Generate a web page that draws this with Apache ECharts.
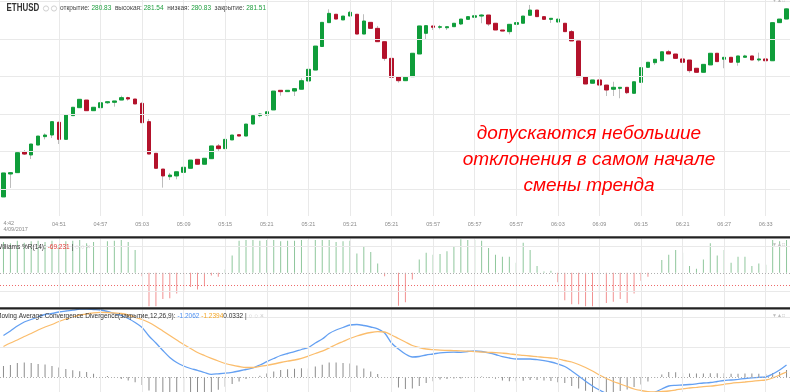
<!DOCTYPE html>
<html><head><meta charset="utf-8">
<script src="https://cdn.jsdelivr.net/npm/echarts@6/dist/echarts.min.js"></script>
<style>html,body{margin:0;padding:0;background:#fff;overflow:hidden}#c{width:790px;height:392px}</style>
</head><body><div id="c"></div>
<script>
// ---- data ----
const tickIndex = [0,8,14,20,26,32,38,44,50,56,62,68,74,80,86,92,98,104,110];
const tickLabels = ['4:42','04:51','04:57','05:03','05:09','05:15','05:21','05:21','05:21','05:21','05:57','05:57','05:57','06:03','06:09','06:15','06:21','06:27','06:33'];
const dateLabel = '4/09/2017';

const opens = [268.97,270.50,270.59,271.97,271.77,272.43,272.99,273.10,273.95,272.81,
274.39,274.92,275.43,274.72,274.92,275.25,275.28,275.43,275.59,275.50,
275.21,273.99,271.88,270.83,270.32,270.37,270.61,270.88,271.48,271.15,
271.52,272.37,272.19,272.77,273.12,273.03,273.83,274.39,274.43,274.77,
276.08,275.99,276.03,276.15,276.70,277.43,279.00,280.59,281.15,280.77,
281.03,281.15,279.83,280.61,280.21,279.32,278.21,276.99,276.72,276.99,
278.50,279.88,280.37,280.28,280.25,280.32,280.50,280.81,280.95,281.03,
281.10,280.55,280.10,279.99,280.48,280.55,281.08,281.43,280.99,280.81,
280.63,280.55,279.99,279.37,276.99,276.55,276.77,276.43,276.15,276.21,
276.28,275.88,276.61,277.61,277.92,278.05,278.65,278.50,278.17,278.10,
277.55,277.28,277.77,278.55,278.15,278.28,277.95,278.28,278.37,278.10,
278.17,278.05,280.59,280.83];
const highs = [270.57,270.62,271.92,272.10,272.50,273.03,273.21,273.99,273.99,274.43,
274.95,275.48,275.43,274.95,275.25,275.32,275.37,275.72,275.65,275.50,
275.28,274.17,271.88,270.83,270.57,270.65,270.95,271.43,271.48,271.55,
272.37,272.50,272.81,273.10,273.12,273.83,274.39,274.55,274.65,276.03,
276.08,276.08,276.19,276.88,277.48,279.03,280.61,281.48,281.15,281.03,
281.37,281.15,281.15,280.61,280.37,279.32,278.21,276.99,276.95,278.55,
280.37,280.39,280.37,280.43,280.32,280.55,280.83,280.99,281.05,281.15,
281.10,280.55,280.10,280.48,280.59,281.03,281.77,281.43,280.99,280.88,
280.83,280.55,280.10,279.37,276.99,276.77,276.77,276.43,276.65,276.28,
276.28,276.65,277.59,277.95,278.15,278.65,278.77,278.50,278.23,278.10,
277.55,277.81,278.55,278.55,278.28,278.28,278.37,278.45,278.37,278.59,
278.17,280.59,280.83,281.54];
const lows = [268.97,269.57,270.59,271.77,271.50,272.43,272.81,272.90,272.50,272.81,
274.39,274.92,274.72,274.72,274.92,275.17,274.99,275.43,275.39,275.17,
273.92,271.83,270.88,269.59,270.10,270.15,270.28,270.88,271.15,271.15,
271.52,271.99,272.19,272.77,273.03,273.03,273.83,274.28,274.43,274.77,
275.72,275.99,275.70,276.15,276.70,277.43,279.00,280.59,280.83,280.77,
281.03,279.83,279.83,280.21,279.32,278.05,276.95,276.59,276.72,276.99,
278.50,279.48,280.10,280.15,280.10,280.32,280.43,280.81,280.50,280.55,
280.37,280.10,280.03,279.81,280.48,280.55,281.08,280.99,280.81,280.57,
280.63,279.99,279.37,276.99,276.50,276.55,276.43,275.70,275.70,275.55,
275.83,275.88,276.61,277.61,277.77,278.05,278.50,278.21,277.95,277.25,
277.28,277.28,277.77,277.99,277.55,277.95,277.72,278.28,278.10,277.99,
278.05,278.05,280.59,280.83];
const closes = [270.57,270.59,271.92,271.83,272.50,273.03,273.10,273.99,272.81,274.43,
274.95,275.48,274.72,274.95,275.25,275.32,275.37,275.59,275.50,275.17,
273.92,271.83,270.88,270.37,270.43,270.65,270.95,271.43,271.15,271.55,
272.37,272.19,272.81,273.10,273.03,273.83,274.39,274.50,274.65,276.03,
275.99,276.08,276.19,276.72,277.48,279.03,280.61,281.21,280.83,281.03,
281.28,279.83,280.70,280.21,279.32,278.21,276.95,276.72,276.95,278.55,
280.37,280.39,280.28,280.32,280.32,280.55,280.83,280.99,281.05,281.10,
280.50,280.10,280.03,280.48,280.59,281.03,281.43,280.99,280.81,280.88,
280.83,279.99,279.37,276.99,276.50,276.77,276.43,276.10,276.28,276.28,
275.92,276.65,277.59,277.95,278.15,278.65,278.50,278.21,277.95,277.39,
277.28,277.81,278.55,277.99,278.28,277.95,278.37,278.37,278.10,278.17,
278.05,280.59,280.83,281.51];
const priceGrid = [282.0,279.5,277.0,274.5,272.0,269.5];

const williamsR = [-4,-6,-2,-5,-3,-2,-4,-2,-8,-3,
-2,-1,-6,-4,-3,-3,-2,-1,-4,-16,
-55,-100,-100,-89,-88,-81,-79,-71,-75,-70,
-54,-56,-45,-24,-2,-1,-1,-2,-1,-1,
-3,-2,-2,-1,-1,-1,-1,-1,-4,-3,
-2,-21,-10,-19,-36,-55,-86,-99,-94,-60,
-30,-20,-23,-22,-18,-11,0,-1,-1,-2,
-13,-23,-26,-26,-35,-5,-16,-40,-48,-47,
-64,-91,-97,-97,-100,-100,-100,-95,-93,-89,
-95,-81,-62,-56,-50,-31,-23,-16,-20,-40,
-44,-30,-6,-24,-16,-35,-26,-26,-40,-36,
-38,-1,-3,-1];
const williamsBase = -50;
const williamsCurrent = -69.231;
const williamsGrid = [-10,-78];

const macdLine = [4.15,4.6,5.1,5.5,5.75,6.0,6.25,6.35,6.5,6.6,
6.68,6.78,6.8,6.75,6.7,6.55,6.35,6.15,5.85,5.45,
4.95,4.1,3.4,2.65,1.95,1.45,1.1,0.85,0.67,0.45,
0.27,0.32,0.38,0.47,0.6,0.75,0.9,1.2,1.53,1.85,
2.15,2.35,2.53,2.75,2.95,3.4,3.8,4.35,4.7,4.95,
5.2,5.25,5.15,5.0,4.82,4.4,3.4,2.8,2.3,2.0,
2.05,2.2,2.3,2.42,2.47,2.48,2.47,2.55,2.6,2.55,
2.42,2.25,2.03,1.9,1.8,1.8,1.8,1.73,1.63,1.5,
1.3,1.05,0.6,0.1,-0.43,-0.9,-1.3,-1.65,-1.95,-2.1,
-2.2,-2.2,-2.1,-1.9,-1.53,-1.2,-0.9,-0.83,-0.8,-0.75,
-0.68,-0.6,-0.55,-0.45,-0.35,-0.3,-0.23,-0.15,-0.08,-0.03,
0.0,0.3,0.7,1.2];
const signalLine = [3.05,3.4,3.7,4.05,4.35,4.7,5.0,5.25,5.55,5.8,
6.0,6.2,6.3,6.42,6.47,6.45,6.4,6.35,6.2,5.97,
5.75,5.45,5.05,4.6,4.15,3.7,3.25,2.85,2.45,2.15,
1.87,1.6,1.35,1.18,1.05,0.95,0.95,1.07,1.17,1.3,
1.45,1.58,1.7,1.87,2.1,2.35,2.58,2.9,3.25,3.55,
3.85,4.1,4.3,4.45,4.53,4.5,4.2,3.85,3.5,3.15,
2.95,2.8,2.73,2.68,2.66,2.64,2.62,2.58,2.54,2.5,
2.47,2.43,2.38,2.32,2.23,2.17,2.1,2.03,1.97,1.9,
1.82,1.65,1.5,1.25,0.95,0.6,0.2,-0.15,-0.45,-0.7,
-0.95,-1.2,-1.35,-1.46,-1.48,-1.45,-1.4,-1.3,-1.18,-1.1,
-1.03,-0.96,-0.92,-0.83,-0.73,-0.63,-0.56,-0.5,-0.43,-0.36,
-0.3,-0.1,0.2,0.5];
const macdHist = [1.1,1.2,1.4,1.45,1.4,1.3,1.25,1.1,0.95,0.8,
0.68,0.58,0.5,0.33,0.23,0.1,-0.05,-0.2,-0.35,-0.52,
-0.8,-1.35,-1.65,-1.95,-2.2,-2.25,-2.15,-2.0,-1.78,-1.7,
-1.6,-1.28,-0.97,-0.71,-0.45,-0.2,-0.05,0.13,0.36,0.55,
0.7,0.77,0.83,0.88,0.85,1.05,1.22,1.45,1.45,1.4,
1.35,1.15,0.85,0.55,0.29,-0.1,-0.8,-1.05,-1.2,-1.15,
-0.9,-0.6,-0.43,-0.26,-0.19,-0.16,-0.15,-0.03,0.06,0.05,
-0.05,-0.18,-0.35,-0.42,-0.43,-0.37,-0.3,-0.3,-0.34,-0.4,
-0.52,-0.6,-0.9,-1.15,-1.38,-1.5,-1.5,-1.5,-1.5,-1.4,
-1.25,-1.0,-0.75,-0.44,-0.05,0.25,0.5,0.47,0.38,0.35,
0.35,0.36,0.37,0.38,0.38,0.33,0.33,0.35,0.35,0.33,
0.3,0.4,0.5,0.7];
const macdGrid = [6,3];

// ---- build ----
const N = opens.length;
const cats = opens.map((_, i) => String(i));
const nulls = cats.map(() => null);
const UP = '#0f9d3a', DOWN = '#b3122b', WICK = '#bdbdbd';
const FONT = '"Liberation Sans", Arial, sans-serif';
const vLines = tickIndex.slice(1).map(i => ({xAxis: i}));
const gridLine = {color: '#e9e9e9', width: 1, type: 'solid'};
function mk(data) {
  return {silent: true, symbol: ['none','none'], label: {show: false}, animation: false, data: data};
}
const wOff = v => v - williamsBase;

const bodies = opens.map((o, i) => [o, closes[i], Math.min(o, closes[i]), Math.max(o, closes[i])]);
const wicks = opens.map((o, i) => [o, closes[i], lows[i], highs[i]]);

const chart = echarts.init(document.getElementById('c'), null, {renderer: 'canvas'});
chart.setOption({
  animation: false,
  backgroundColor: '#fff',
  grid: [
    {left: 0, right: 0, top: 0, height: 216},
    {left: 0, right: 0, top: 238.5, height: 68.5},
    {left: 0, right: 0, top: 309.5, height: 82.5}
  ],
  xAxis: [
    {type: 'category', gridIndex: 0, data: cats, boundaryGap: true,
     axisLine: {show: false}, axisTick: {show: false}, splitLine: {show: false},
     axisLabel: {interval: (i) => tickIndex.indexOf(i) > 0, formatter: (v, i) => tickLabels[tickIndex.indexOf(i)],
       fontSize: 5.5, color: '#8a8a8a', margin: 5, fontFamily: FONT}},
    {type: 'category', gridIndex: 0, data: cats, boundaryGap: true, position: 'bottom',
     axisLine: {show: false}, axisTick: {show: false}, splitLine: {show: false},
     axisLabel: {interval: (i) => i === 0, formatter: () => tickLabels[0] + '\n' + dateLabel,
       align: 'left', fontSize: 5.5, lineHeight: 5.5, color: '#8a8a8a', margin: 5, fontFamily: FONT}},
    {type: 'category', gridIndex: 1, data: cats, boundaryGap: true, show: false},
    {type: 'category', gridIndex: 2, data: cats, boundaryGap: true, show: false}
  ],
  yAxis: [
    {type: 'value', gridIndex: 0, min: 267.7, max: 282.1, show: false},
    {type: 'value', gridIndex: 1, min: -51, max: 51.2, show: false},
    {type: 'value', gridIndex: 2, min: -1.5, max: 6.75, show: false}
  ],
  series: [
    {type: 'line', xAxisIndex: 0, yAxisIndex: 0, data: nulls, z: 1, symbol: 'none',
     markLine: Object.assign(mk(priceGrid.map(v => ({yAxis: v})).concat(vLines)), {lineStyle: gridLine})},
    {type: 'candlestick', xAxisIndex: 0, yAxisIndex: 0, data: wicks, z: 2, barWidth: 1,
     itemStyle: {color: WICK, color0: WICK, borderColor: WICK, borderColor0: WICK, borderWidth: 1}},
    {type: 'candlestick', xAxisIndex: 0, yAxisIndex: 0, data: bodies, z: 3, barWidth: 4,
     itemStyle: {color: UP, color0: DOWN, borderColor: UP, borderColor0: DOWN, borderWidth: 1}},

    {type: 'line', xAxisIndex: 2, yAxisIndex: 1, data: nulls, z: 1, symbol: 'none',
     markLine: Object.assign(mk(williamsGrid.map(v => ({yAxis: wOff(v)})).concat(vLines)), {lineStyle: gridLine})},
    {type: 'bar', xAxisIndex: 2, yAxisIndex: 1, barWidth: 1, z: 2,
     data: williamsR.map(v => ({value: wOff(v), itemStyle: {color: v >= williamsBase ? '#8fc79c' : '#f29191'}})),
     markLine: mk([
       {yAxis: wOff(williamsBase), lineStyle: {color: '#b0b0b0', type: [1, 2], width: 1}},
       {yAxis: wOff(williamsCurrent), lineStyle: {color: '#ee6a6a', type: [1, 2], width: 1}}
     ])},

    {type: 'line', xAxisIndex: 3, yAxisIndex: 2, data: nulls, z: 1, symbol: 'none',
     markLine: Object.assign(mk(macdGrid.map(v => ({yAxis: v})).concat(vLines)), {lineStyle: gridLine})},
    {type: 'bar', xAxisIndex: 3, yAxisIndex: 2, barWidth: 1, z: 2, data: macdHist,
     itemStyle: {color: '#8c8c8c'},
     markLine: mk([{yAxis: 0, lineStyle: {color: '#b0b0b0', type: [1, 2], width: 1}}])},
    {type: 'line', xAxisIndex: 3, yAxisIndex: 2, data: macdLine, z: 3, symbol: 'none', smooth: 0.3,
     lineStyle: {color: '#64a0f2', width: 1.3}},
    {type: 'line', xAxisIndex: 3, yAxisIndex: 2, data: signalLine, z: 3, symbol: 'none', smooth: 0.3,
     lineStyle: {color: '#fbbd6c', width: 1.3}}
  ],
  graphic: [
    {type: 'rect', shape: {x: 0, y: 236.3, width: 790, height: 2.2}, style: {fill: '#222'}, z: 100},
    {type: 'rect', shape: {x: 0, y: 307.3, width: 790, height: 2.2}, style: {fill: '#222'}, z: 100},
    {type: 'text', x: 6.5, y: 8, scaleX: 0.76, z: 100, style: {text: 'ETHUSD', font: 'bold 10.5px ' + FONT, fill: '#333', textVerticalAlign: 'middle'}},
    {type: 'circle', shape: {cx: 46, cy: 8.5, r: 2.6}, style: {fill: 'none', stroke: '#d0d0d0', lineWidth: 1}, z: 100},
    {type: 'circle', shape: {cx: 54, cy: 8.5, r: 2.6}, style: {fill: 'none', stroke: '#d0d0d0', lineWidth: 1}, z: 100},
    {type: 'text', x: 60, y: 8.5, z: 100, style: {
      text: '{l|открытие:} {v|280.83}  {l|высокая:} {v|281.54}  {l|низкая:} {v|280.83}  {l|закрытие:} {v|281.51}',
      font: '6.5px ' + FONT, textVerticalAlign: 'middle',
      rich: {l: {fill: '#444', fontSize: 6.5, fontFamily: FONT}, v: {fill: '#1f9e3f', fontSize: 6.5, fontFamily: FONT}}}},
    {type: 'text', x: -4, y: 247, z: 100, style: {
      text: '{l|Williams %R(14): }{r|-69.231}{l| | }{g|○ ○ ×}',
      font: '6.5px ' + FONT, textVerticalAlign: 'middle',
      rich: {l: {fill: '#333', fontSize: 6.5, fontFamily: FONT}, r: {fill: '#e53935', fontSize: 6.5, fontFamily: FONT}, g: {fill: '#c8c8c8', fontSize: 6.5, fontFamily: FONT}}}},
    {type: 'text', x: -4, y: 316.5, z: 100, style: {
      text: '{l|Moving Average Convergence Divergence(закрытие,12,26,9): }{b|-1.2062} {o|-1.2394}{l|0.0332 | }{g|○ ○ ×}',
      font: '6.5px ' + FONT, textVerticalAlign: 'middle',
      rich: {l: {fill: '#333', fontSize: 6.5, fontFamily: FONT}, b: {fill: '#4a8ef0', fontSize: 6.5, fontFamily: FONT}, o: {fill: '#f5a623', fontSize: 6.5, fontFamily: FONT}, g: {fill: '#c8c8c8', fontSize: 6.5, fontFamily: FONT}}}},
    {type: 'text', x: 772, y: 1, z: 100, style: {text: '▼▲□', font: '5px ' + FONT, fill: '#bbb', textVerticalAlign: 'middle'}},
    {type: 'text', x: 772, y: 245, z: 100, style: {text: '▼▲□', font: '5px ' + FONT, fill: '#bbb', textVerticalAlign: 'middle'}},
    {type: 'text', x: 772, y: 315.5, z: 100, style: {text: '▼▲□', font: '5px ' + FONT, fill: '#bbb', textVerticalAlign: 'middle'}},
    {type: 'text', x: 589, y: 160, z: 100, style: {
      text: 'допускаются небольшие\nотклонения в самом начале\nсмены тренда',
      font: 'italic 19px ' + FONT, fill: '#f00', textAlign: 'center', textVerticalAlign: 'middle', lineHeight: 26}}
  ]
});
</script></body></html>
